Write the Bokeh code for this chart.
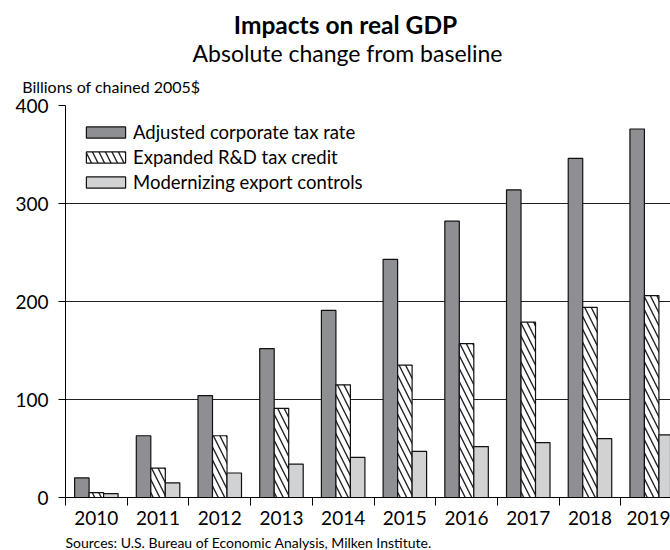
from bokeh.plotting import figure
from bokeh.models import ColumnDataSource, Range1d, FixedTicker, Title
from bokeh.layouts import column
from bokeh.transform import dodge
from bokeh.core.properties import value
from bokeh.embed import file_html
from bokeh.resources import INLINE

years = ["2010", "2011", "2012", "2013", "2014", "2015", "2016", "2017", "2018", "2019"]
corporate_tax = [20, 63, 104, 152, 191, 243, 282, 314, 346, 376]
rd_credit = [5, 30, 63, 91, 115, 135, 157, 179, 194, 206]
export_controls = [4, 15, 25, 34, 41, 47, 52, 56, 60, 64]
y_ticks = [0, 100, 200, 300, 400]
series_names = ["Adjusted corporate tax rate", "Expanded R&D tax credit", "Modernizing export controls"]
title_text = "Impacts on real GDP"
subtitle_text = "Absolute change from baseline"
unit_text = "Billions of chained 2005$"
source_text = "Sources: U.S. Bureau of Economic Analysis, Milken Institute."

FONT = "Lato"
W = 670
LEFT = 65          # left edge of the plotting frame (frames are aligned in the column)
HEADER_H = 69
FOOTER_H = 16


def text_strip(height):
    f = figure(width=W, height=height, x_range=Range1d(LEFT, W), y_range=Range1d(height, 0),
               output_backend="svg", toolbar_location=None, min_border=0, title=None,
               x_axis_type=None, y_axis_type=None)
    f.outline_line_color = None
    f.xgrid.visible = False
    f.ygrid.visible = False
    return f


# ---- header (title + subtitle), data units == page pixels ----
header = text_strip(HEADER_H)
header.text(x=[345], y=[23.5], text=[title_text], text_font=value(FONT), text_font_size="24.5px",
            text_font_style="bold", text_align="center", text_baseline="alphabetic", text_color="black")
header.text(x=[347], y=[52.7], text=[subtitle_text], text_font=value(FONT), text_font_size="23px",
            text_align="center", text_baseline="alphabetic", text_color="black")

# ---- main chart ----
pos = list(range(len(years)))
src = ColumnDataSource(dict(x=pos, corp=corporate_tax, rd=rd_credit, exp=export_controls))

MAIN_H = 550 - HEADER_H - FOOTER_H
p = figure(width=W, height=MAIN_H, x_range=Range1d(-0.5, 9.305), y_range=Range1d(0, 400),
           output_backend="svg", toolbar_location=None,
           min_border_left=LEFT, min_border_right=0, min_border_top=105 - HEADER_H,
           min_border_bottom=HEADER_H + MAIN_H - 497)
p.outline_line_color = None

p.add_layout(Title(text=unit_text, align="left", offset=21.7 - LEFT, vertical_align="top",
                   standoff=14.6, text_font=FONT, text_font_size="16px",
                   text_font_style="normal", text_color="black"), "above")

bw = 0.235
p.vbar(x=dodge("x", -bw), top="corp", width=bw, source=src, fill_color="#8e8f93",
       line_color="#111111", line_width=1.2, legend_label=series_names[0])
p.vbar(x=dodge("x", 0), top="rd", width=bw, source=src, fill_color="white",
       hatch_pattern="\\", hatch_color="#222222", hatch_scale=13, hatch_weight=1.4,
       line_color="#111111", line_width=1.2, legend_label=series_names[1])
p.vbar(x=dodge("x", bw), top="exp", width=bw, source=src, fill_color="#d1d2d4",
       line_color="#111111", line_width=1.2, legend_label=series_names[2])

p.xgrid.grid_line_color = None
p.ygrid.ticker = FixedTicker(ticks=y_ticks)
p.ygrid.grid_line_color = "#222222"
p.ygrid.grid_line_width = 1

xa = p.xaxis[0]
xa.ticker = FixedTicker(ticks=pos, minor_ticks=[i - 0.5 for i in range(len(years) + 1)])
xa.major_label_overrides = {i: y for i, y in zip(pos, years)}
xa.major_tick_in = 0
xa.major_tick_out = 0
xa.minor_tick_in = 0
xa.minor_tick_out = 8
xa.minor_tick_line_color = "black"
xa.axis_line_color = "black"
xa.major_label_standoff = 5
xa.major_label_text_font = FONT
xa.major_label_text_font_size = "19px"
xa.major_label_text_color = "black"

ya = p.yaxis[0]
ya.ticker = FixedTicker(ticks=y_ticks)
ya.major_tick_in = 0
ya.major_tick_out = 7
ya.minor_tick_out = 0
ya.minor_tick_in = 0
ya.axis_line_color = "black"
ya.major_tick_line_color = "black"
ya.major_label_standoff = 10
ya.major_label_text_font = FONT
ya.major_label_text_font_size = "19px"
ya.major_label_text_color = "black"

lg = p.legend[0]
lg.location = "top_left"
lg.margin = 16
lg.padding = 0
lg.border_line_color = None
lg.background_fill_alpha = 0
lg.glyph_width = 49
lg.glyph_height = 14
lg.label_standoff = 3
lg.spacing = 3
lg.label_text_font = FONT
lg.label_text_font_size = "18.5px"
lg.label_text_color = "black"

# ---- footer (source note) ----
footer = text_strip(FOOTER_H)
footer.text(x=[LEFT], y=[8], text=[source_text], text_font=value(FONT),
            text_font_size="14px", text_align="left", text_baseline="alphabetic", text_color="black")

layout = column(header, p, footer, spacing=0)
open("out.html", "w").write(file_html(layout, INLINE))
